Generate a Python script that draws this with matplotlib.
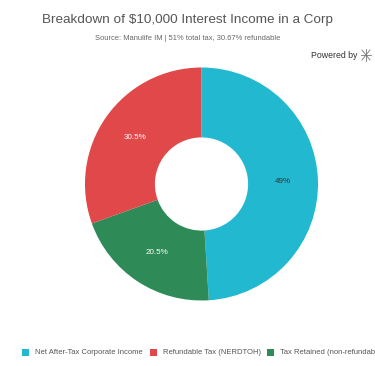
import matplotlib
matplotlib.use("Agg")
import matplotlib.pyplot as plt
from matplotlib.patches import Rectangle
from matplotlib.lines import Line2D

plt.rcParams['font.family'] = ['Liberation Sans', 'DejaVu Sans']

categories = ["Net After-Tax Corporate Income", "Refundable Tax (NERDTOH)", "Tax Retained (non-refundable)"]
values = [49.0, 30.5, 20.5]
colors = ["#22b8cf", "#e0484a", "#2e8b57"]
label_colors = ["#333333", "#ffffff", "#ffffff"]

W, H = 375, 366
fig = plt.figure(figsize=(W/100, H/100), dpi=100)

fig.text(0.5, 1-20/H, "Breakdown of $10,000 Interest Income in a Corp", ha='center', va='center',
         fontsize=9.7, color='#555555')
fig.text(0.5, 1-38/H, "Source: Manulife IM | 51% total tax, 30.67% refundable", ha='center', va='center',
         fontsize=5.45, color='#666666')
fig.text(357/W, 1-56/H, "Powered by", ha='right', va='center', fontsize=6.3, color='#333333')
# small logo mark
ix, iy = 366, 55
for dx0, dy0, dx1, dy1 in [(-4, -5, 4, 5), (-4, 5, 4, -5), (0, -6, 0, 6), (-5, 0, 5, 0)]:
    fig.lines.append(Line2D([(ix+dx0)/W, (ix+dx1)/W], [1-(iy+dy0)/H, 1-(iy+dy1)/H],
                            transform=fig.transFigure, color='#777777', linewidth=0.6))

cx, cy, r = 201.5, 184, 116.5
ax = fig.add_axes([(cx-r)/W, 1-(cy+r)/H, 2*r/W, 2*r/H])
# order clockwise from top: cyan, green, red
order = [0, 2, 1]
wedges, texts, autotexts = ax.pie([values[i] for i in order], colors=[colors[i] for i in order],
                                  startangle=90, counterclock=False,
                                  wedgeprops=dict(width=0.6, linewidth=0),
                                  autopct=lambda p: f"{p:g}%", pctdistance=0.7,
                                  textprops=dict(fontsize=5.8))
for t, i in zip(autotexts, order):
    t.set_color(label_colors[i])
    t.set_text(f"{values[i]:g}%")
ax.set_xlim(-1, 1)
ax.set_ylim(-1, 1)
ax.set_aspect('auto')
ax.axis('off')

# legend
ly = 1-352/H
items = [(22, 35), (150, 163), (267, 280)]
for (sx, tx), c, lab in zip(items, colors, categories):
    fig.patches.append(Rectangle((sx/W, ly-3.5/H), 7/W, 7/H, transform=fig.transFigure,
                                 facecolor=c, edgecolor='none'))
    fig.text(tx/W, ly, lab, ha='left', va='center', fontsize=5.5, color='#555555')

fig.savefig("out.png", dpi=100)
